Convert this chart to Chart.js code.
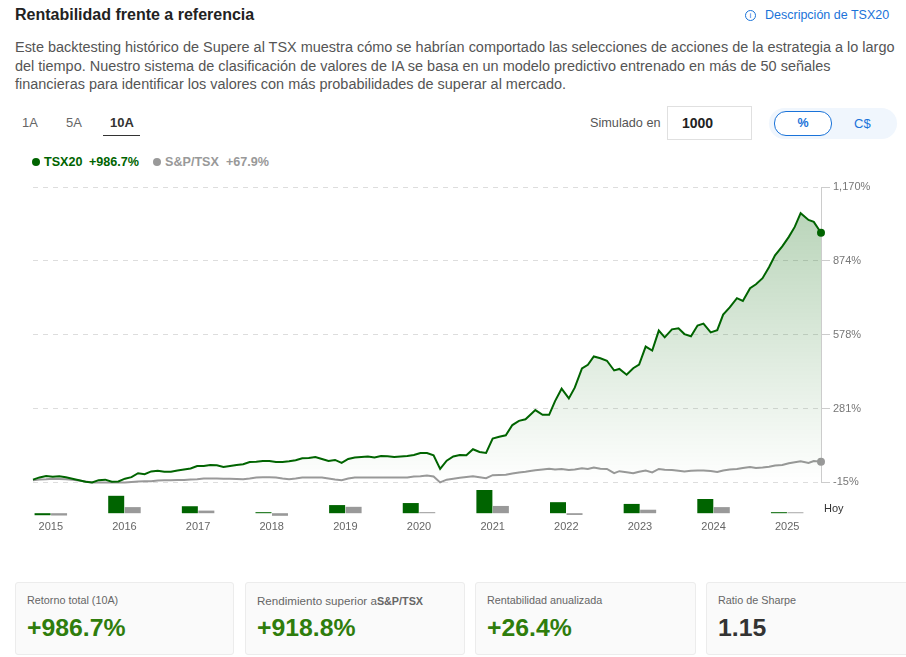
<!DOCTYPE html>
<html lang="es">
<head>
<meta charset="utf-8">
<title>Rentabilidad frente a referencia</title>
<script src="https://cdn.jsdelivr.net/npm/chart.js@4"></script>
<style>
  html, body { margin: 0; padding: 0; background: #fff; }
  body { width: 906px; height: 657px; position: relative; overflow: hidden; font-family: Arial, "Liberation Sans", sans-serif; }
  .abs { position: absolute; white-space: nowrap; }
  canvas { position: absolute; left: 0; }
  #title { left: 15px; top: 6px; font-size: 16px; font-weight: bold; color: #222; }
  #info-icon { left: 745px; top: 10px; width: 9px; height: 9px; border: 1px solid #1a73d9; border-radius: 50%; color: #1a73d9; font-size: 8px; line-height: 9px; text-align: center; }
  #info-link { left: 765px; top: 8px; font-size: 12.5px; color: #1a73d9; }
  #intro { left: 15px; top: 38px; font-size: 14.46px; line-height: 18.7px; color: #555; }
  .tab { top: 115px; font-size: 13px; color: #666; }
  #tab-active { color: #333; font-weight: bold; }
  #tab-line { left: 103px; top: 135px; width: 37px; height: 1px; background: #333; }
  #sim-label { left: 590px; top: 116px; font-size: 12.7px; color: #555; }
  #sim-input { left: 667px; top: 106px; width: 69px; height: 32px; padding-left: 14px; border: 1px solid #e0e0e0; font-size: 14px; font-weight: bold; line-height: 32px; color: #222; }
  #toggle { left: 769px; top: 108px; width: 128px; height: 31px; background: #f0f6fd; border-radius: 16px; }
  #toggle-on { left: 774px; top: 111px; width: 56px; height: 23px; border: 1px solid #1a73d9; border-radius: 12px; background: #fff; color: #1a73d9; font-size: 12.5px; font-weight: bold; line-height: 23px; text-align: center; }
  #toggle-off { left: 854px; top: 116px; font-size: 13px; color: #1a73d9; }
  .dot { top: 158px; width: 8px; height: 8px; border-radius: 50%; }
  .leg { top: 155px; font-size: 12.6px; font-weight: bold; }
  #hoy { left: 824px; top: 502px; font-size: 11px; color: #333; }
  .card { top: 582px; height: 71px; background: #fafafa; border: 1px solid #ececec; border-radius: 3px; }
  .card-label { position: absolute; left: 11px; top: 11px; font-size: 10.8px; color: #666; white-space: nowrap; }
  .card-value { position: absolute; left: 11px; top: 31px; font-size: 24.8px; font-weight: bold; color: #2f7d0c; white-space: nowrap; }
</style>
</head>
<body>
<div class="abs" id="title">Rentabilidad frente a referencia</div>
<div class="abs" id="info-icon">i</div>
<div class="abs" id="info-link">Descripción de TSX20</div>
<div class="abs" id="intro">Este backtesting histórico de Supere al TSX muestra cómo se habrían comportado las selecciones de acciones de la estrategia a lo largo<br>del tiempo. Nuestro sistema de clasificación de valores de IA se basa en un modelo predictivo entrenado en más de 50 señales<br>financieras para identificar los valores con más probabilidades de superar al mercado.</div>

<div class="abs tab" style="left:22px">1A</div>
<div class="abs tab" style="left:66px">5A</div>
<div class="abs tab" id="tab-active" style="left:110px">10A</div>
<div class="abs" id="tab-line"></div>

<div class="abs" id="sim-label">Simulado en</div>
<div class="abs" id="sim-input">1000</div>
<div class="abs" id="toggle"></div>
<div class="abs" id="toggle-on">%</div>
<div class="abs" id="toggle-off">C$</div>

<div class="abs dot" style="left:32px;background:#006400"></div>
<div class="abs leg" style="left:44px;color:#006400">TSX20</div>
<div class="abs leg" style="left:89px;color:#006400">+986.7%</div>
<div class="abs dot" style="left:153px;background:#999"></div>
<div class="abs leg" style="left:165px;color:#999">S&amp;P/TSX</div>
<div class="abs leg" style="left:226px;color:#999">+67.9%</div>

<canvas id="line-chart" width="906" height="322" style="top:170px"></canvas>
<canvas id="bar-chart" width="906" height="60" style="top:480px"></canvas>
<div class="abs" id="hoy">Hoy</div>

<div class="abs card" style="left:15px;width:217px"><div class="card-label">Retorno total (10A)</div><div class="card-value">+986.7%</div></div>
<div class="abs card" style="left:245px;width:218px"><div class="card-label"><span style="font-size:11.6px">Rendimiento superior a</span><b>S&amp;P/TSX</b></div><div class="card-value">+918.8%</div></div>
<div class="abs card" style="left:475px;width:219px"><div class="card-label">Rentabilidad anualizada</div><div class="card-value">+26.4%</div></div>
<div class="abs card" style="left:706px;width:219px"><div class="card-label">Ratio de Sharpe</div><div class="card-value" style="color:#333">1.15</div></div>

<script>
// months since the start of the backtest
const months = [0,1,2,3,4,5,6,7,8,9,10,11,12,13,14,15,16,17,18,19,
  20,21,22,23,24,25,26,27,28,29,30,31,32,33,34,35,36,37,38,39,
  40,41,42,43,44,45,46,47,48,49,50,51,52,53,54,55,56,57,58,59,
  60,61,62,63,64,65,66,67,68,69,70,71,72,73,74,75,
  75.7,76.5,77.6,78.6,79.5,80.5,81.6,82.5,83.6,84.5,85.4,86.4,87.4,88.5,89.3,90.4,
  91.4,92.3,93.3,94.3,95.3,96.2,97.3,98.3,99.2,100.2,101.2,102.1,103.2,104.2,105.1,
  106.1,107.2,108.1,109.2,110.1,111.1,112.1,113,114.1,115.1,116,116.9,118.1,118.9,120];

const tsx20 = [-4,5,11,8,10,6,0,-6,-12,-15,-6,-4,-12,-11,0,6,22,18,29,32,
  28,28,33,37,41,51,51,55,54,47,51,55,58,67,68,71,71,67,67,70,
  74,82,83,87,79,71,75,63,79,85,87,89,85,91,90,87,89,91,95,103,
  103,94,39,72,89,95,94,118,107,103,161,168,174,215,232,238,
  255,275,256,256,311,361,322,365,442,457,490,483,473,434,440,417,
  443,458,530,514,594,567,599,603,580,571,614,622,587,596,658,
  687,724,713,764,780,804,849,896,932,970,1010,1065,1038,1030,986.7];

const spTsx = [-6,-3,-2,0,-1,-2,-4,-7,-11,-15,-15,-15,-15,-15,-15,-13,-11,-10,-10,-7,
  -6,-6,-5,-5,-3,-2,1,1,1,0,0,-1,-2,1,5,6,6,5,1,-2,
  1,5,5,5,5,1,-3,-6,1,5,5,5,5,5,5,5,5,5,9,10,
  13,9,-15,-4,0,4,7,10,6,2,14,15,16,21,25,28,
  31,34,37,40,37,39,35,37,42,39,45,40,39,22,30,26,
  22,28,33,25,39,36,35,32,29,32,33,33,31,27,33,
  37,39,43,47,43,45,48,53,55,62,66,70,63,71,67.9];

const yTicks = [-15, 281, 578, 874, 1170];

const years = ['2015','2016','2017','2018','2019','2020','2021','2022','2023','2024','2025'];
const tsx20Annual = [-7,60,24,3.5,28,35,80,38,32,49,3.5];
const spTsxAnnual = [-8,21,9,-9,22,3.5,25,-6,12,21,3];

const GREEN = '#006400';
const GREY = '#999999';

function fillGradient(ctx) {
  const chart = ctx.chart;
  if (!chart.chartArea) return 'transparent';
  const g = chart.ctx.createLinearGradient(0, chart.scales.y.getPixelForValue(1065), 0, chart.chartArea.bottom);
  g.addColorStop(0, 'rgba(0,100,0,0.27)');
  g.addColorStop(1, 'rgba(0,100,0,0)');
  return g;
}

function endPoint(ctx) {
  return ctx.dataIndex === months.length - 1 ? 4 : 0;
}

new Chart(document.getElementById('line-chart').getContext('2d'), {
  type: 'line',
  data: {
    datasets: [{
      label: 'TSX20',
      data: months.map((m, i) => ({ x: m, y: tsx20[i] })),
      borderColor: GREEN,
      backgroundColor: fillGradient,
      borderWidth: 2,
      fill: 'start',
      tension: 0,
      pointRadius: endPoint,
      pointBackgroundColor: GREEN,
      pointBorderWidth: 0,
      clip: false
    }, {
      label: 'S&P/TSX',
      data: months.map((m, i) => ({ x: m, y: spTsx[i] })),
      borderColor: GREY,
      borderWidth: 2,
      fill: false,
      tension: 0,
      pointRadius: endPoint,
      pointBackgroundColor: GREY,
      pointBorderWidth: 0,
      clip: false
    }]
  },
  options: {
    responsive: false,
    animation: false,
    layout: { padding: { left: 33, top: 17, bottom: 8, right: 0 } },
    plugins: { legend: { display: false }, tooltip: { enabled: false } },
    scales: {
      x: { type: 'linear', min: 0, max: 120, display: false },
      y: {
        position: 'right',
        min: -15,
        max: 1170,
        afterBuildTicks: (axis) => { axis.ticks = yTicks.map(v => ({ value: v })); },
        afterFit: (axis) => { axis.width = 85; },
        grid: {
          color: '#dddddd',
          tickBorderDash: [],
          tickColor: '#cccccc',
          tickLength: 9
        },
        border: { display: true, color: '#cccccc', dash: [5, 5] },
        ticks: {
          padding: 3,
          color: '#777777',
          font: { family: 'Arial, "Liberation Sans", sans-serif', size: 11 },
          callback: (v) => v.toLocaleString('en-US') + '%'
        }
      }
    }
  }
});

new Chart(document.getElementById('bar-chart').getContext('2d'), {
  type: 'bar',
  data: {
    labels: years,
    datasets: [
      { label: 'TSX20', data: tsx20Annual, backgroundColor: GREEN, categoryPercentage: 0.448, barPercentage: 0.97 },
      { label: 'S&P/TSX', data: spTsxAnnual, backgroundColor: GREY, categoryPercentage: 0.448, barPercentage: 0.97 }
    ]
  },
  options: {
    responsive: false,
    animation: false,
    layout: { padding: { left: 14, right: 82, top: 10, bottom: 0 } },
    plugins: { legend: { display: false }, tooltip: { enabled: false } },
    scales: {
      x: {
        afterFit: (axis) => { axis.height = 21; },
        grid: { display: false, drawTicks: false },
        border: { display: false },
        ticks: {
          padding: 1,
          maxRotation: 0,
          color: '#666666',
          font: { family: 'Arial, "Liberation Sans", sans-serif', size: 11 }
        }
      },
      y: { display: false, min: -20, max: 80 }
    }
  }
});
</script>
</body>
</html>
